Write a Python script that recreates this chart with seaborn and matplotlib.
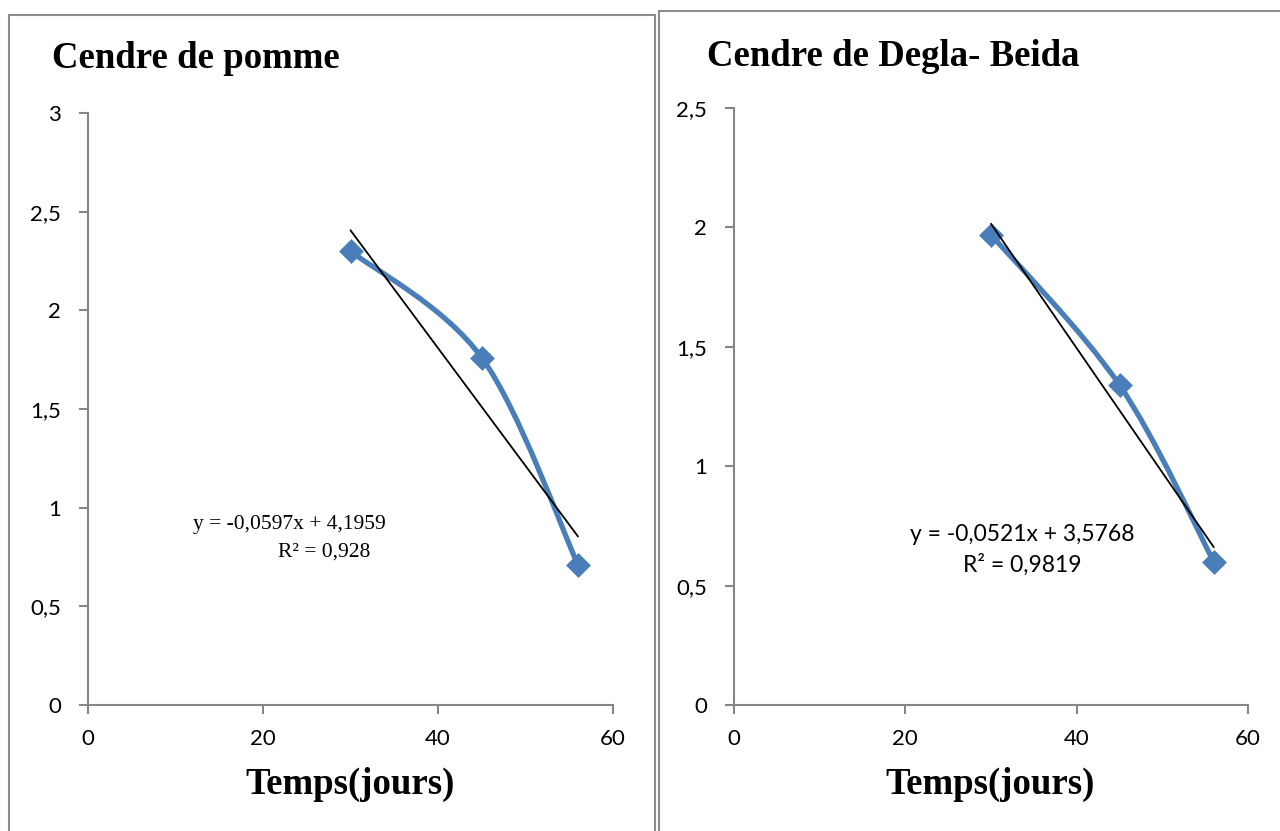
import numpy as np
import pandas as pd
import matplotlib
matplotlib.use("Agg")
import matplotlib.pyplot as plt
import seaborn as sns
from matplotlib.path import Path
from matplotlib.patches import PathPatch, Rectangle
from matplotlib.ticker import FuncFormatter

# ---- data ----
days = [30, 45, 56]
pomme = [2.30, 1.76, 0.71]
degla = [1.97, 1.34, 0.60]
titles = ["Cendre de pomme", "Cendre de Degla- Beida"]
eq_pomme = ["y = -0,0597x + 4,1959", "R² = 0,928"]
eq_degla = ["y = -0,0521x + 3,5768", "R² = 0,9819"]
xlabel = "Temps(jours)"

sns.set_theme(style="white")
plt.rcParams["font.family"] = ["Lato", "DejaVu Sans"]
plt.rcParams["text.color"] = "black"
plt.rcParams["xtick.color"] = "black"
plt.rcParams["ytick.color"] = "black"

BLUE = "#4A7EBB"
GRAY = "#868686"

fig = plt.figure(figsize=(12.8, 8.31), dpi=100)
W, H = 1280, 831


def fx(px):
    return px / W


def fy(py):
    return 1 - py / H


# panel borders
fig.add_artist(Rectangle((fx(9), fy(900)), fx(655 - 9), (900 - 15) / H,
                         transform=fig.transFigure, fill=False, edgecolor="#8C8C8C", lw=1.5))
fig.add_artist(Rectangle((fx(659), fy(900)), fx(1300 - 659), (900 - 11) / H,
                         transform=fig.transFigure, fill=False, edgecolor="#8C8C8C", lw=1.5))


def smooth_path(xs, ys):
    pts = np.column_stack([xs, ys]).astype(float)
    n = len(pts)
    verts = [pts[0]]
    codes = [Path.MOVETO]
    for i in range(n - 1):
        p0 = pts[i - 1] if i > 0 else pts[i]
        p1 = pts[i]
        p2 = pts[i + 1]
        p3 = pts[i + 2] if i + 2 < n else pts[i + 1]
        c1 = p1 + (p2 - p0) / 6.0
        c2 = p2 - (p3 - p1) / 6.0
        verts += [c1, c2, p2]
        codes += [Path.CURVE4] * 3
    return Path(verts, codes)


def comma(v, pos):
    return ("%g" % v).replace(".", ",")


def make_panel(rect, y, ylim, yticks, title, title_xy, eq, eq_pos, eq_font, eq_size, xlab_xy):
    ax = fig.add_axes(rect)
    df = pd.DataFrame({"x": days, "y": y})
    # smooth line (Excel-style smoothed curve)
    patch = PathPatch(smooth_path(df["x"], df["y"]), facecolor="none",
                      edgecolor=BLUE, lw=3.8, capstyle="round", joinstyle="round", zorder=2)
    ax.add_patch(patch)
    sns.scatterplot(data=df, x="x", y="y", marker="D", s=160, color=BLUE,
                    edgecolor=BLUE, linewidth=0, ax=ax, zorder=3)
    sns.regplot(data=df, x="x", y="y", scatter=False, ci=None, ax=ax,
                line_kws=dict(color="black", lw=1.3, zorder=4))
    ax.set_xlim(0, 60)
    ax.set_ylim(*ylim)
    ax.set_xticks([0, 20, 40, 60])
    ax.set_yticks(yticks)
    ax.yaxis.set_major_formatter(FuncFormatter(comma))
    ax.set_xlabel("")
    ax.set_ylabel("")
    for s in ["top", "right"]:
        ax.spines[s].set_visible(False)
    for s in ["left", "bottom"]:
        ax.spines[s].set_color(GRAY)
        ax.spines[s].set_linewidth(1.5)
    ax.tick_params(axis="both", which="major", direction="out", color=GRAY,
                   width=1.5, labelsize=16, labelcolor="black", bottom=True, left=True)
    ax.tick_params(axis="x", length=6.5, pad=11)
    ax.tick_params(axis="y", length=6.5, pad=13)
    ax.patch.set_alpha(0)
    ax.grid(False)
    fig.text(fx(title_xy[0]), fy(title_xy[1]), title, family="Liberation Serif",
             fontweight="bold", fontsize=26.5, ha="left", va="center", color="black")
    fig.text(fx(xlab_xy[0]), fy(xlab_xy[1]), xlabel, family="Liberation Serif",
             fontweight="bold", fontsize=26.5, ha="center", va="center", color="black")
    for (tx, ty), t in zip(eq_pos, eq):
        ax.text(tx, ty, t, family=eq_font, fontsize=eq_size, ha="center", va="center",
                color="black")
    return ax


make_panel([fx(88), fy(705), fx(613 - 88), (705 - 113) / H], pomme, (0, 3),
           [0, 0.5, 1, 1.5, 2, 2.5, 3], titles[0], (52, 58), eq_pomme,
           [(23.0, 0.915), (27.0, 0.775)], "Liberation Serif", 15.5, (350, 784))
make_panel([fx(734), fy(705), fx(1248 - 734), (705 - 108) / H], degla, (0, 2.5),
           [0, 0.5, 1, 1.5, 2, 2.5], titles[1], (707, 56), eq_degla,
           [(33.7, 0.712), (33.7, 0.586)], "Lato", 16.5, (990, 784))

fig.savefig("out.png", dpi=100, facecolor="white")
